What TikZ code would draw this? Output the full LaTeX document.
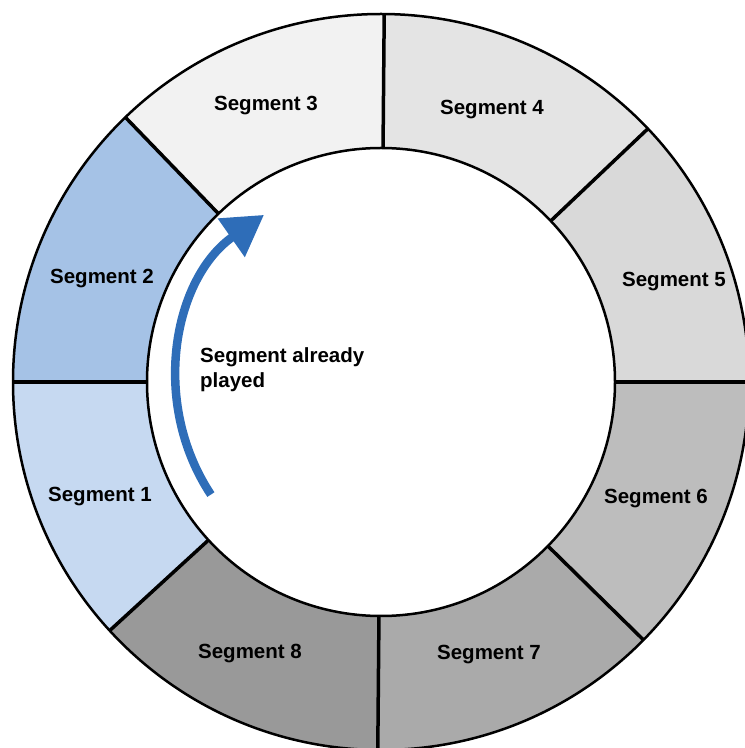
\documentclass[tikz,border=0pt]{standalone}
\usepackage{fontspec}
\setmainfont{Liberation Sans}
\usetikzlibrary{arrows.meta,calc}
\definecolor{segA}{HTML}{C6D9F1}
\definecolor{segB}{HTML}{A5C2E6}
\definecolor{segC}{HTML}{F2F2F2}
\definecolor{segD}{HTML}{E4E4E4}
\definecolor{segE}{HTML}{D9D9D9}
\definecolor{segF}{HTML}{BDBDBD}
\definecolor{segG}{HTML}{AAAAAA}
\definecolor{segH}{HTML}{999999}
\definecolor{arrowblue}{HTML}{2E6DB8}
\tikzset{
  seglabel/.style={font=\fontsize{20.5}{25}\selectfont\bfseries, inner sep=0pt},
  divider/.style={line width=3.5pt, black},
  ringline/.style={line width=2.5pt, black},
}
\begin{document}
\begin{tikzpicture}[x=1pt,y=1pt]
\useasboundingbox (0,0) rectangle (745,748);
\coordinate (c) at (381,366);
\def\Ro{368}
\def\Ri{234}
% segments: start angle / end angle / colour
\foreach \a/\b/\col in {180/222.5/segA,134/180/segB,89.5/134/segC,43.5/89.5/segD,0/43.5/segE,-44.5/0/segF,-90.5/-44.5/segG,-137.5/-90.5/segH}{
  \fill[\col] ($(c)+(\a:\Ro)$) arc[start angle=\a, end angle=\b, radius=\Ro]
     -- ($(c)+(\b:\Ri)$) arc[start angle=\b, end angle=\a, radius=\Ri] -- cycle;
}
% dividers
\foreach \a in {0,43.5,89.5,134,180,222.5,269.5,315.5}{
  \draw[divider] ($(c)+(\a:\Ri)$) -- ($(c)+(\a:\Ro)$);
}
\draw[ringline] (c) circle[radius=\Ro];
\draw[ringline] (c) circle[radius=\Ri];
% labels
\node[seglabel] (s1) at (100,251) {Segment 1};
\node[seglabel] (s2) at (102,469) {Segment 2};
\node[seglabel] (s3) at (266,642) {Segment 3};
\node[seglabel] (s4) at (492,638) {Segment 4};
\node[seglabel] (s5) at (674,466) {Segment 5};
\node[seglabel] (s6) at (656,249) {Segment 6};
\node[seglabel] (s7) at (489,93) {Segment 7};
\node[seglabel] (s8) at (250,94) {Segment 8};
% arrow
\draw[arrowblue, line width=8.5pt, -{Triangle[length=40pt,width=45pt]}]
  ($(c)+(213.5:204)$) arc[start angle=213.5, end angle=125, radius=204];
\node[seglabel, anchor=north west, align=left] (played) at (200,401) {Segment already\\played};
\end{tikzpicture}
\end{document}
